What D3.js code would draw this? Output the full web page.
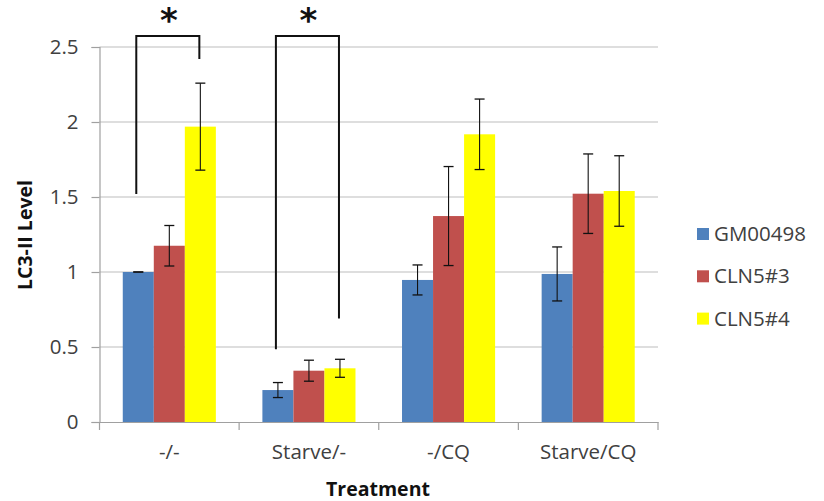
<!DOCTYPE html>
<html><head><meta charset="utf-8">
<script src="https://cdn.jsdelivr.net/npm/d3@7"></script>
<style>
html,body{margin:0;padding:0;background:#fff;}
svg{display:block;font-family:"Open Sans",sans-serif;}
</style></head>
<body>
<svg id="chart" width="824" height="501"></svg>
<script>
const categories = ["-/-", "Starve/-", "-/CQ", "Starve/CQ"];
const seriesNames = ["GM00498", "CLN5#3", "CLN5#4"];
const seriesColors = ["#4F81BD", "#C0504D", "#FFFF00"];
const gmValues   = [1.0, 0.213, 0.947, 0.987];
const gmErrors   = [0.0, 0.05, 0.10, 0.18];
const cln3Values = [1.175, 0.342, 1.373, 1.522];
const cln3Errors = [0.135, 0.07, 0.33, 0.265];
const cln4Values = [1.969, 0.358, 1.918, 1.54];
const cln4Errors = [0.29, 0.06, 0.235, 0.235];
const yTicks = [0, 0.5, 1, 1.5, 2, 2.5];
const yTickLabels = ["0", "0.5", "1", "1.5", "2", "2.5"];
// significance brackets: category index, left-end value, right-end value, top value
const bracketCategories = [0, 1];
const bracketLeftEnds = [1.52, 0.485];
const bracketRightEnds = [2.42, 0.69];
const bracketTops = [2.573, 2.573];

const values = [gmValues, cln3Values, cln4Values];
const errors = [gmErrors, cln3Errors, cln4Errors];

const svg = d3.select("#chart");
const plotLeft = 99.5, plotRight = 658, plotTop = 47, plotBottom = 422;
const fs = "20.5px";

const x0 = d3.scaleBand().domain(categories).range([plotLeft, plotRight]).padding(0);
const bw = x0.bandwidth();
const x1 = d3.scaleBand().domain(seriesNames).range([bw / 6, bw * 5 / 6]).padding(0);
const y = d3.scaleLinear().domain([0, 2.5]).range([plotBottom, plotTop]);

// gridlines
svg.append("g").selectAll("line").data(yTicks.filter(d => d > 0)).join("line")
  .attr("x1", plotLeft).attr("x2", plotRight)
  .attr("y1", d => y(d)).attr("y2", d => y(d))
  .attr("stroke", "#bdbdbd").attr("stroke-width", 1.2);

// y axis
const yAxis = d3.axisLeft(y).tickValues(yTicks)
  .tickFormat((d, i) => yTickLabels[i]).tickSize(8).tickPadding(13);
const gy = svg.append("g").attr("transform", `translate(${plotLeft},0)`).call(yAxis);
gy.select(".domain").attr("stroke", "#a0a0a0").attr("stroke-width", 1.2);
gy.selectAll(".tick line").attr("stroke", "#a0a0a0").attr("stroke-width", 1.2);
gy.selectAll(".tick text").attr("font-size", fs).attr("fill", "#404040")
  .attr("font-family", "Open Sans");

// bars
const groups = svg.append("g").selectAll("g").data(categories).join("g")
  .attr("transform", d => `translate(${x0(d)},0)`);
seriesNames.forEach((s, si) => {
  groups.append("rect")
    .attr("x", x1(s)).attr("width", x1.bandwidth())
    .attr("y", (d, ci) => y(values[si][ci]))
    .attr("height", (d, ci) => y(0) - y(values[si][ci]))
    .attr("fill", seriesColors[si]);
});

// x axis
const xAxis = d3.axisBottom(x0).tickSize(0).tickPadding(22);
const gx = svg.append("g").attr("transform", `translate(0,${plotBottom})`).call(xAxis);
gx.select(".domain").attr("stroke", "#a0a0a0").attr("stroke-width", 1.2);
gx.selectAll(".tick text").attr("font-size", fs).attr("fill", "#404040")
  .attr("font-family", "Open Sans");
// category boundary tick marks
const boundaries = categories.map(c => x0(c)).concat([x0(categories[categories.length - 1]) + bw]);
gx.append("g").selectAll("line").data(boundaries).join("line")
  .attr("x1", d => d).attr("x2", d => d).attr("y1", 0).attr("y2", 8)
  .attr("stroke", "#a0a0a0").attr("stroke-width", 1.2);

// error bars
seriesNames.forEach((s, si) => {
  const eg = groups.append("g");
  const cx = x1(s) + x1.bandwidth() / 2;
  eg.append("line")
    .attr("x1", cx).attr("x2", cx)
    .attr("y1", (d, ci) => y(values[si][ci] + errors[si][ci]))
    .attr("y2", (d, ci) => y(values[si][ci] - errors[si][ci]))
    .attr("stroke", "#111").attr("stroke-width", 1.1);
  [1, -1].forEach(sign => {
    eg.append("line")
      .attr("x1", cx - 5).attr("x2", cx + 5)
      .attr("y1", (d, ci) => y(values[si][ci] + sign * errors[si][ci]))
      .attr("y2", (d, ci) => y(values[si][ci] + sign * errors[si][ci]))
      .attr("stroke", "#111").attr("stroke-width", 1.3);
  });
});

// significance brackets
bracketCategories.forEach((ci, bi) => {
  const cat = categories[ci];
  const xl = x0(cat) + x1(seriesNames[0]) + x1.bandwidth() / 2 - 2;
  const xr = x0(cat) + x1(seriesNames[2]) + x1.bandwidth() / 2 - 1;
  const yt = y(bracketTops[bi]);
  svg.append("path")
    .attr("d", `M${xl},${y(bracketLeftEnds[bi])}V${yt}H${xr}V${y(bracketRightEnds[bi])}`)
    .attr("fill", "none").attr("stroke", "#111").attr("stroke-width", 2);
  svg.append("text")
    .attr("x", (xl + xr) / 2 + 1).attr("y", yt - 4)
    .attr("text-anchor", "middle")
    .attr("font-size", "34px").attr("font-weight", "bold").attr("fill", "#111")
    .attr("font-family", "DejaVu Sans")
    .text("*");
});

// axis titles
svg.append("text")
  .attr("transform", `translate(32,235) rotate(-90)`)
  .attr("text-anchor", "middle")
  .attr("font-size", "19.5px").attr("font-weight", "bold").attr("fill", "#111")
  .text("LC3-II Level");
svg.append("text")
  .attr("x", 378).attr("y", 496)
  .attr("text-anchor", "middle")
  .attr("font-size", "19.5px").attr("font-weight", "bold").attr("fill", "#111")
  .text("Treatment");

// legend
const legend = svg.append("g").selectAll("g").data(seriesNames).join("g")
  .attr("transform", (d, i) => `translate(697,${234 + i * 42.3})`);
legend.append("rect").attr("x", 0).attr("y", -6).attr("width", 12).attr("height", 12)
  .attr("fill", (d, i) => seriesColors[i]);
legend.append("text").attr("x", 17).attr("y", 0).attr("dy", "0.35em")
  .attr("font-size", fs).attr("fill", "#404040")
  .text(d => d);
</script>
</body></html>
